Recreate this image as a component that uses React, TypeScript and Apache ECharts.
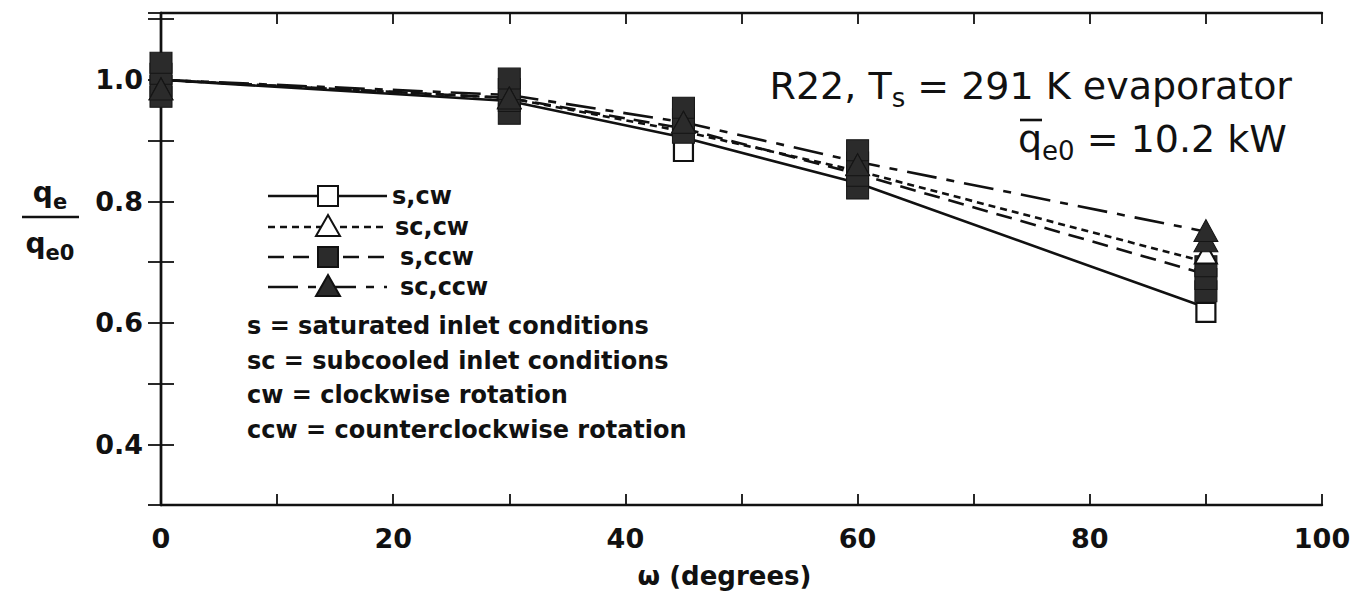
import React, { useEffect, useRef } from "react";
import * as echarts from "echarts";

// ---- data ----
const degrees = [0, 30, 45, 60, 90];
const sCwLine = [1.0, 0.965, 0.905, 0.83, 0.625];
const scCwLine = [1.0, 0.97, 0.915, 0.85, 0.7];
const sCcwLine = [1.0, 0.97, 0.92, 0.845, 0.68];
const scCcwLine = [1.0, 0.975, 0.93, 0.865, 0.75];

// individual measurements (markers)
const sCwPts = [[0, 0.99], [30, 0.955], [45, 0.882], [60, 0.83], [90, 0.617]];
const scCwPts = [[0, 0.985], [30, 0.97], [45, 0.93], [60, 0.86], [90, 0.714]];
const sCcwPts = [
  [0, 0.972], [0, 0.99], [0, 1.01], [0, 1.028],
  [30, 0.944], [30, 0.965], [30, 0.985], [30, 1.002],
  [45, 0.913], [45, 0.935], [45, 0.954],
  [60, 0.821], [60, 0.842], [60, 0.864], [60, 0.884],
  [90, 0.652], [90, 0.672], [90, 0.693],
];
const scCcwPts = [[0, 0.985], [30, 0.97], [45, 0.93], [60, 0.86], [90, 0.735], [90, 0.752]];

const xTicks = [0, 20, 40, 60, 80, 100];
const yTicks = [0.4, 0.6, 0.8, 1.0];

const legendNames = ["s,cw", "sc,cw", "s,ccw", "sc,ccw"];
const noteLines = [
  "s = saturated inlet conditions",
  "sc = subcooled inlet conditions",
  "cw = clockwise rotation",
  "ccw = counterclockwise rotation",
];

const FONT = "'DejaVu Sans', 'Liberation Sans', Arial, sans-serif";
const INK = "#111";
const MARK = "#2b2b2b";

export default function App() {
  const ref = useRef<HTMLDivElement>(null);

  useEffect(() => {
    document.body.style.margin = "0";
    const chart = echarts.init(ref.current!, null, { renderer: "svg" });

    const axisLine = { show: true, lineStyle: { color: INK, width: 2.4 } };
    const tick = (len: number) => ({ show: true, inside: true, length: len, lineStyle: { color: INK, width: 1.8 } });

    const pair = (xs: number[], ys: number[]) => xs.map((x, i) => [x, ys[i]]);

    // legend graphic
    const rowY = [196, 227, 257, 287];
    const lx1 = 268, lx2 = 387, mx = 328;
    const dashes: any[] = [null, [7, 5], [16, 9], [30, 10, 8, 10]];
    const textX = [392, 395, 400, 400];
    const graphics: any[] = [];
    rowY.forEach((y, i) => {
      graphics.push({
        type: "line", shape: { x1: lx1, y1: y, x2: lx2, y2: y }, z: 10,
        style: { stroke: INK, lineWidth: 2.6, lineDash: dashes[i] || null },
      });
      if (i === 0 || i === 2) {
        graphics.push({
          type: "rect", shape: { x: mx - 10, y: y - 10, width: 20, height: 20 }, z: 11,
          style: { fill: i === 0 ? "#fff" : MARK, stroke: INK, lineWidth: 2 },
        });
      } else {
        graphics.push({
          type: "polygon", shape: { points: [[mx, y - 12], [mx + 12, y + 9], [mx - 12, y + 9]] }, z: 11,
          style: { fill: i === 1 ? "#fff" : MARK, stroke: INK, lineWidth: 2 },
        });
      }
      graphics.push({
        type: "text", x: textX[i], y, z: 11,
        style: { text: legendNames[i], font: `bold 24px ${FONT}`, fill: INK, verticalAlign: "middle", textAlign: "left" },
      });
    });
    const noteY = [326, 361, 395, 430];
    noteLines.forEach((t, i) => {
      graphics.push({
        type: "text", x: 247, y: noteY[i], z: 11,
        style: { text: t, font: `bold 24px ${FONT}`, fill: INK, verticalAlign: "middle", textAlign: "left" },
      });
    });
    // title annotations
    graphics.push({
      type: "text", x: 1292, y: 86, z: 11,
      style: {
        text: "R22, T{s|s} = 291 K evaporator",
        font: `38px ${FONT}`, fill: INK, textAlign: "right", verticalAlign: "middle",
        rich: { s: { fontSize: 26, fontFamily: FONT, verticalAlign: "bottom", lineHeight: 18, fill: INK } },
        lineHeight: 50,
      },
    });
    graphics.push({
      type: "text", x: 1018, y: 139, z: 11,
      style: {
        text: "q{s|e0} = 10.2 kW",
        font: `38px ${FONT}`, fill: INK, textAlign: "left", verticalAlign: "middle",
        rich: { s: { fontSize: 26, fontFamily: FONT, verticalAlign: "bottom", lineHeight: 18, fill: INK } },
        lineHeight: 50,
      },
    });
    graphics.push({
      type: "line", shape: { x1: 1020, y1: 120, x2: 1042, y2: 120 }, z: 11,
      style: { stroke: INK, lineWidth: 2.6 },
    });
    // y axis name: fraction
    graphics.push({
      type: "text", x: 50, y: 192, z: 11,
      style: {
        text: "q{s|e}", font: `bold 28px ${FONT}`, fill: INK, textAlign: "center", verticalAlign: "middle",
        rich: { s: { fontSize: 21, fontWeight: "bold", fontFamily: FONT, verticalAlign: "bottom", lineHeight: 18, fill: INK } },
        lineHeight: 40,
      },
    });
    graphics.push({
      type: "line", shape: { x1: 22, y1: 217, x2: 79, y2: 217 }, z: 11,
      style: { stroke: INK, lineWidth: 2.4 },
    });
    graphics.push({
      type: "text", x: 50, y: 243, z: 11,
      style: {
        text: "q{s|e}{z|0}", font: `bold 28px ${FONT}`, fill: INK, textAlign: "center", verticalAlign: "middle",
        rich: {
          s: { fontSize: 21, fontWeight: "bold", fontFamily: FONT, verticalAlign: "bottom", lineHeight: 18, fill: INK },
          z: { fontSize: 21, fontWeight: "bold", fontFamily: FONT, verticalAlign: "bottom", lineHeight: 10, fill: INK },
        },
        lineHeight: 40,
      },
    });

    const lineSeries = (name: string, ys: number[], type: any) => ({
      name, type: "line", data: pair(degrees, ys), symbol: "none", silent: true, z: 2,
      lineStyle: { color: INK, width: 2.6, type },
    });

    const option: any = {
      animation: false,
      backgroundColor: "#fff",
      textStyle: { fontFamily: FONT },
      grid: { left: 161, right: 42, top: 13, bottom: 96, containLabel: false },
      xAxis: [
        {
          type: "value", min: 0, max: 100, interval: 10, position: "bottom",
          axisLine, axisTick: tick(11), splitLine: { show: false },
          axisLabel: {
            formatter: (v: number) => (xTicks.includes(Math.round(v)) ? String(Math.round(v)) : ""),
            fontSize: 27, fontWeight: "bold", color: INK, margin: 20, fontFamily: FONT,
          },
          name: "ω (degrees)", nameLocation: "middle", nameGap: 58,
          nameTextStyle: { fontSize: 26, fontWeight: "bold", color: INK, fontFamily: FONT, padding: [0, 34, 0, 0] },
        },
        {
          type: "value", min: 0, max: 100, interval: 10, position: "top",
          axisLine, axisTick: tick(11), splitLine: { show: false }, axisLabel: { show: false },
        },
      ],
      yAxis: [
        {
          type: "value", min: 0.3, max: 1.11, interval: 0.1, position: "left",
          axisLine, axisTick: tick(13), splitLine: { show: false },
          axisLabel: {
            formatter: (v: number) => {
              const hit = yTicks.find((t) => Math.abs(t - v) < 1e-6);
              return hit !== undefined ? hit.toFixed(1) : "";
            },
            fontSize: 27, fontWeight: "bold", color: INK, margin: 18, fontFamily: FONT,
          },
        },
        {
          type: "value", min: 0.3, max: 1.11, interval: 0.1, position: "right",
          axisLine, axisTick: tick(13), splitLine: { show: false }, axisLabel: { show: false },
        },
      ],
      series: [
        lineSeries("s,cw", sCwLine, "solid"),
        lineSeries("sc,cw", scCwLine, [7, 5]),
        lineSeries("s,ccw", sCcwLine, [16, 9]),
        lineSeries("sc,ccw", scCcwLine, [30, 10, 8, 10]),
        {
          name: "s,cw", type: "scatter", data: sCwPts, symbol: "rect", symbolSize: [19, 19], z: 3, silent: true,
          itemStyle: { color: "#fff", borderColor: INK, borderWidth: 2.2, opacity: 1 },
        },
        {
          name: "s,ccw", type: "scatter", data: sCcwPts, symbol: "rect", symbolSize: [22, 21], z: 4, silent: true,
          itemStyle: { color: MARK, borderColor: "#151515", borderWidth: 1, opacity: 1 },
        },
        {
          name: "sc,cw", type: "scatter", data: scCwPts, symbol: "triangle", symbolSize: [22, 20], z: 5, silent: true,
          itemStyle: { color: "#fff", borderColor: INK, borderWidth: 2, opacity: 1 },
        },
        {
          name: "sc,ccw", type: "scatter", data: scCcwPts, symbol: "triangle", symbolSize: [24, 22], z: 6, silent: true,
          itemStyle: { color: MARK, borderColor: "#151515", borderWidth: 1, opacity: 1 },
        },
      ],
      graphic: graphics,
    };

    chart.setOption(option);
    return () => chart.dispose();
  }, []);

  return <div ref={ref} style={{ width: 1364, height: 601, background: "#fff" }} />;
}
